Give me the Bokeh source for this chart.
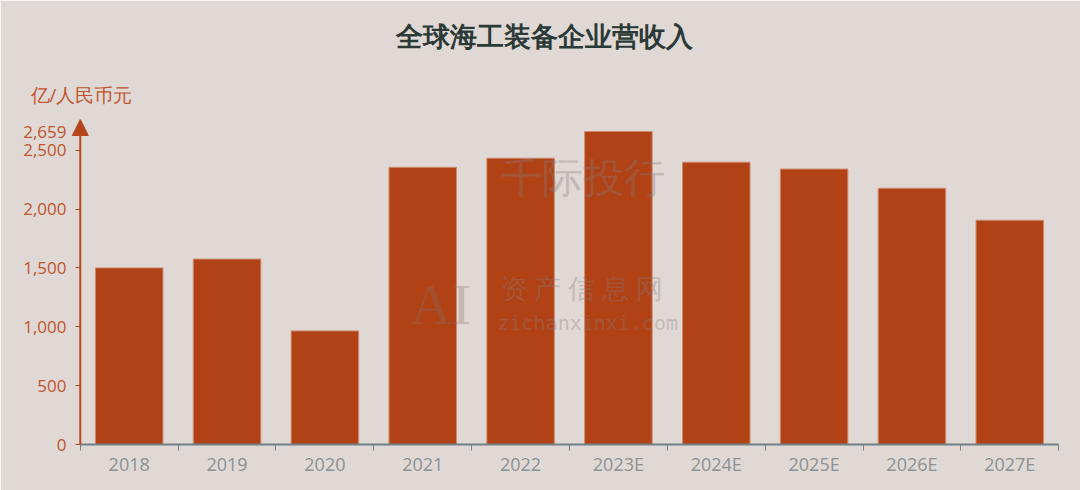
from bokeh.plotting import figure
from bokeh.models import (FactorRange, Range1d, LinearAxis, FixedTicker, NumeralTickFormatter,
                          Label, Arrow, NormalHead, Title)
from bokeh.embed import file_html
from bokeh.resources import INLINE

categories = ["2018", "2019", "2020", "2021", "2022", "2023E", "2024E", "2025E", "2026E", "2027E"]
revenue = [1500, 1575, 965, 2355, 2432, 2659, 2398, 2340, 2177, 1905]
y_ticks = [0, 500, 1000, 1500, 2000, 2500, 2659]
title_text = "全球海工装备企业营收入"
y_title = "亿/人民币元"

BG = "#e0d8d5"
BAR = "#b04216"
ORANGE = "#b5461c"
FONT = "Open Sans"

W, H = 1080, 490
n = len(categories)
# a little room above the top tick and left of the axis for the arrow head
y_top = max(revenue) * 325 / 313
p = figure(width=W, height=H,
           x_range=FactorRange(*categories, range_padding=0.1, range_padding_units="absolute"),
           y_range=Range1d(0, y_top), x_axis_type=None, y_axis_type=None,
           output_backend="svg", toolbar_location=None,
           min_border_left=70, min_border_right=12, min_border_top=119, min_border_bottom=46,
           background_fill_color=BG, border_fill_color=BG,
           outline_line_color=BG, outline_line_width=2)
p.grid.visible = False

p.vbar(x=categories, top=revenue, width=0.69, fill_color=BAR, line_color="#cf8a6c", line_width=1)

# x axis: labels at category centres, ticks at boundaries
xaxis = LinearAxis(ticker=FixedTicker(ticks=[i + 0.5 for i in range(n)], minor_ticks=list(range(n + 1))),
                   major_label_overrides={i + 0.5: c for i, c in enumerate(categories)},
                   bounds=(0, n))
xaxis.axis_line_color = "#6f8088"
xaxis.axis_line_width = 2
xaxis.major_tick_line_color = None
xaxis.minor_tick_line_color = "#6f8088"
xaxis.minor_tick_out = 6
xaxis.minor_tick_in = 0
xaxis.minor_tick_line_width = 1
xaxis.major_label_text_color = "#8c9194"
xaxis.major_label_text_font = FONT
xaxis.major_label_text_font_size = "18px"
xaxis.major_label_standoff = 1
p.add_layout(xaxis, "below")

# y axis sits at the frame edge; its visible line is the arrow drawn at the first category edge
yaxis = LinearAxis(ticker=FixedTicker(ticks=y_ticks), formatter=NumeralTickFormatter(format="0,0"))
yaxis.axis_line_color = None
yaxis.major_tick_line_color = ORANGE
yaxis.major_tick_line_width = 1
yaxis.major_tick_out = -5
yaxis.major_tick_in = 10
yaxis.minor_tick_line_color = None
yaxis.major_label_text_color = "#c0542c"
yaxis.major_label_text_font = FONT
yaxis.major_label_text_font_size = "17px"
yaxis.major_label_standoff = 4
p.add_layout(yaxis, "left")

p.add_layout(Arrow(x_start=0, y_start=0, x_end=0, y_end=y_top,
                   line_color=ORANGE, line_width=2,
                   end=NormalHead(size=16, fill_color=ORANGE, line_color=ORANGE)))

# titles
p.add_layout(Title(text=y_title, align="left", offset=-40, standoff=26,
                   text_font=FONT, text_font_size="18.5px", text_font_style="normal",
                   text_color="#c0542c"), "above")
p.title.text = title_text
p.title.align = "left"
p.title.offset = 325
p.title.standoff = 26
p.title.text_font = FONT
p.title.text_font_size = "26.5px"
p.title.text_font_style = "bold"
p.title.text_color = "#2c3a37"

# watermarks
WM = "#8a7e7c"
p.add_layout(Label(x=430, y=269, x_units="screen", y_units="screen", text="千际投行",
                   text_font=FONT, text_font_size="41px", text_color=WM, text_alpha=0.35,
                   text_align="left", text_baseline="middle"))
p.add_layout(Label(x=430, y=157, x_units="screen", y_units="screen", text="资 产 信 息 网",
                   text_font=FONT, text_font_size="26.5px", text_color=WM, text_alpha=0.35,
                   text_align="left", text_baseline="middle"))
p.add_layout(Label(x=427, y=122, x_units="screen", y_units="screen", text="zichanxinxi.com",
                   text_font="DejaVu Sans Mono", text_font_size="20px", text_color=WM, text_alpha=0.35,
                   text_align="left", text_baseline="middle"))
p.add_layout(Label(x=370, y=140, x_units="screen", y_units="screen", text="AI",
                   text_font="Liberation Serif", text_font_size="58px", text_color="#8a6e68", text_alpha=0.3,
                   text_align="center", text_baseline="middle"))

open("out.html", "w").write(file_html(p, INLINE))
